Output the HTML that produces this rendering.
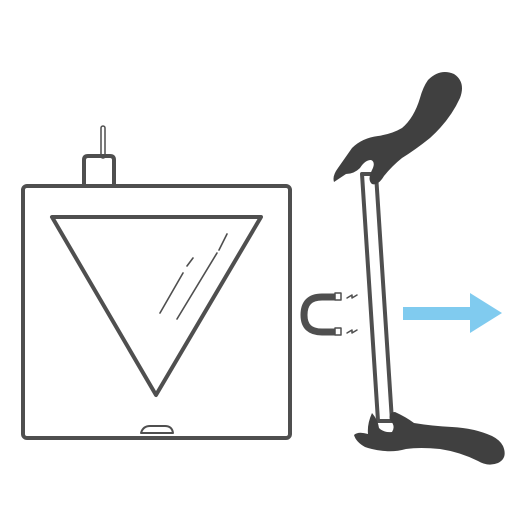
<!DOCTYPE html>
<html><head><meta charset="utf-8"><style>html,body{margin:0;padding:0;background:#fff}svg{display:block}</style></head>
<body>
<svg width="521" height="521" viewBox="0 0 521 521">
<g fill="none" stroke="#4f4f4f" stroke-linejoin="round" stroke-linecap="round">
  <rect x="101" y="126" width="4" height="32" rx="2" stroke-width="1.5"/>
  <path d="M84 186 V160 q0-4 4-4 H110 q4 0 4 4 V186" stroke-width="4"/>
  <rect x="23" y="186" width="267" height="252" rx="4" stroke-width="4"/>
  <polygon points="52,217 261,217 156,395" stroke-width="4"/>
  <path d="M160 313 L183 273 M187 266 L193 258 M177 319 L217 253 M219 250 L227 234" stroke-width="1.6"/>
  <path d="M141 433 Q143 426 150 426 H165 Q172 426 173 433 Z" stroke-width="2"/>
  <path d="M336 297 H322 Q304 297 304 315 Q304 332 322 332 H336" stroke-width="7" stroke-linecap="butt"/>
  <rect x="335" y="293" width="6" height="7" fill="#fff" stroke-width="1.5"/>
  <rect x="335" y="328" width="6" height="7" fill="#fff" stroke-width="1.5"/>
  <path d="M347 298 L352 295 L352 298 L357 295" stroke-width="1.5"/>
  <path d="M347 333 L352 330 L352 333 L357 330" stroke-width="1.5"/>
  <polygon points="362,174 376,174 392,421 378,421" stroke-width="4"/>
</g>
<path fill="#404040" d="M428 80 Q440 68 454 74 Q466 82 460 98 Q450 120 430 138 Q415 150 402 158 Q392 166 384 176 Q378 186 372 184 Q367 180 372 170 Q376 162 371 160 Q365 160 360 168 Q354 174 346 174 Q340 178 334 182 Q332 176 338 168 Q345 158 352 148 Q362 138 378 136 Q392 134 402 128 Q414 118 420 98 Q423 87 428 80 Z"/>
<path fill="#404040" d="M503 446 Q508 458 498 463 Q488 467 478 461 Q460 452 440 449 Q420 447 406 449 Q395 452 385 451 Q373 450 365 447 Q356 442 354 435 Q358 431 368 434 Q367 424 372 413 Q378 420 379 428 Q384 433 392 432 Q396 426 390 420 Q388 412 395 412 Q406 417 414 423 Q432 426 452 427 Q474 428 492 436 Q500 440 503 446 Z"/>
<polygon fill="#80cbef" points="403,307 470,307 470,293 502,313 470,333 470,320 403,320"/>
</svg>
</body></html>
